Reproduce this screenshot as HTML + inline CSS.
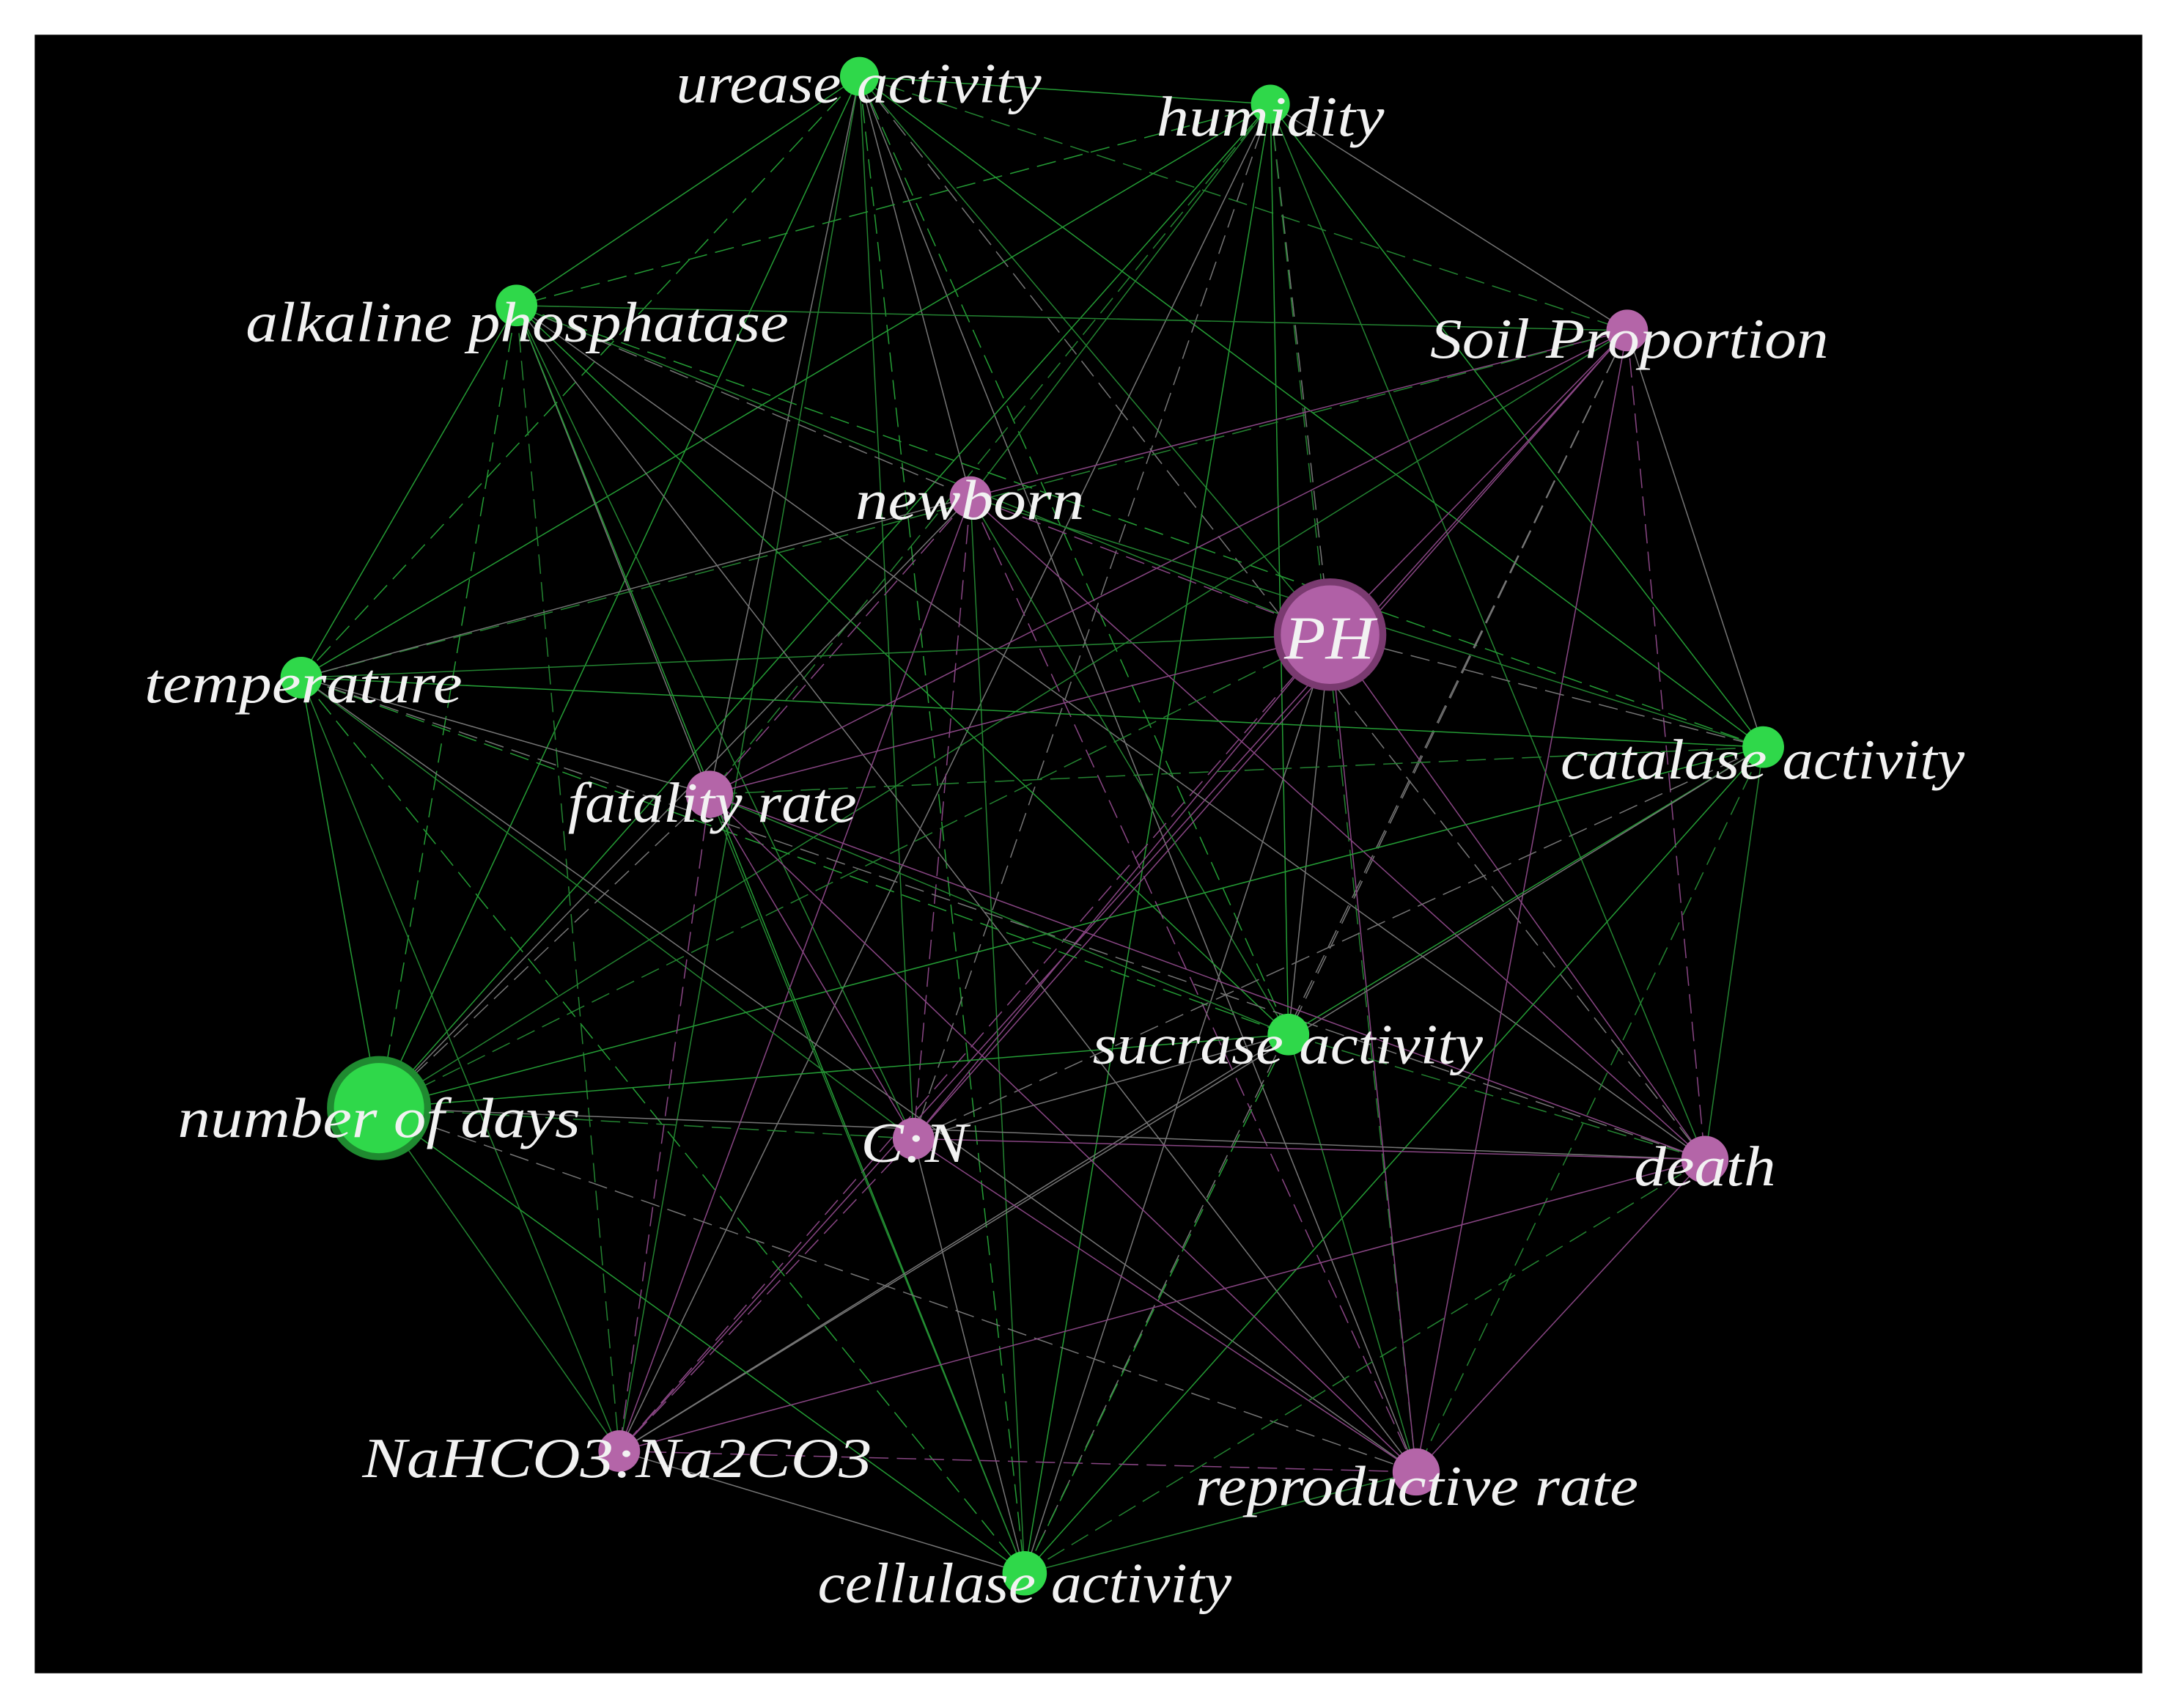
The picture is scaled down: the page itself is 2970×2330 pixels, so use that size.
<!DOCTYPE html>
<html><head><meta charset="utf-8"><style>
html,body{margin:0;padding:0;background:#fff;width:2970px;height:2330px;overflow:hidden}
svg{display:block}
text{font-family:"Liberation Serif",serif;font-style:italic;fill:#f2f2f2;font-size:41px}
</style></head><body>
<svg id="s" width="2970" height="2330" viewBox="0 0 1568 1230" preserveAspectRatio="none">
<rect x="25" y="25" width="1518" height="1180" fill="#000"/>
<g id="edges" opacity="0.85"></g>
<g id="nodes">
<circle cx="619" cy="55" r="14" fill="#2fd84a"/>
<circle cx="915" cy="75" r="14" fill="#2fd84a"/>
<circle cx="372" cy="220" r="15" fill="#2fd84a"/>
<circle cx="1172" cy="238" r="15" fill="#b465a8"/>
<circle cx="699" cy="358" r="15" fill="#b465a8"/>
<circle cx="958" cy="457" r="38" fill="#b060a6" stroke="#7a3a70" stroke-width="5"/>
<circle cx="217" cy="488" r="15" fill="#2fd84a"/>
<circle cx="1270" cy="538" r="15" fill="#2fd84a"/>
<circle cx="511" cy="572" r="17" fill="#b465a8"/>
<circle cx="928" cy="745" r="15" fill="#2fd84a"/>
<circle cx="273" cy="798" r="35" fill="#2fd84a" stroke="#1f8a30" stroke-width="5"/>
<circle cx="658" cy="820" r="15" fill="#b465a8"/>
<circle cx="1228" cy="835" r="17" fill="#b465a8"/>
<circle cx="446" cy="1045" r="15" fill="#b465a8"/>
<circle cx="1020" cy="1060" r="17" fill="#b465a8"/>
<circle cx="738" cy="1133" r="16" fill="#2fd84a"/>
</g>
<g dominant-baseline="central" lengthAdjust="spacingAndGlyphs">
<text x="487" y="60" textLength="263" lengthAdjust="spacingAndGlyphs">urease activity</text>
<text x="833" y="84" textLength="164" lengthAdjust="spacingAndGlyphs">humidity</text>
<text x="177" y="232" textLength="391" lengthAdjust="spacingAndGlyphs">alkaline phosphatase</text>
<text x="1030" y="244" textLength="287" lengthAdjust="spacingAndGlyphs">Soil Proportion</text>
<text x="616" y="360" textLength="165" lengthAdjust="spacingAndGlyphs">newborn</text>
<text x="925" y="460" textLength="65" lengthAdjust="spacingAndGlyphs" style="font-size:44px">PH</text>
<text x="104" y="492" textLength="229" lengthAdjust="spacingAndGlyphs">temperature</text>
<text x="1124" y="547" textLength="291" lengthAdjust="spacingAndGlyphs">catalase activity</text>
<text x="409" y="578" textLength="208" lengthAdjust="spacingAndGlyphs">fatality rate</text>
<text x="787" y="752" textLength="281" lengthAdjust="spacingAndGlyphs">sucrase activity</text>
<text x="128" y="805" textLength="290" lengthAdjust="spacingAndGlyphs">number of days</text>
<text x="620" y="823" textLength="77" lengthAdjust="spacingAndGlyphs">C:N</text>
<text x="1177" y="840" textLength="102" lengthAdjust="spacingAndGlyphs">death</text>
<text x="261" y="1050" textLength="367" lengthAdjust="spacingAndGlyphs">NaHCO3:Na2CO3</text>
<text x="861" y="1070" textLength="319" lengthAdjust="spacingAndGlyphs">reproductive rate</text>
<text x="589" y="1140" textLength="298" lengthAdjust="spacingAndGlyphs">cellulase activity</text>
</g>
</svg>
<script>
var N=[[619,55,1],[915,75,1],[372,220,1],[1172,238,0],[699,358,0],[958,457,0],[217,488,1],[1270,538,1],[511,572,0],[928,745,1],[273,798,1],[658,820,0],[1228,835,0],[446,1045,0],[1020,1060,0],[738,1133,1]];
var g=document.getElementById('edges'),h='';
for(var i=0;i<N.length;i++)for(var j=i+1;j<N.length;j++){
var a=N[i],b=N[j],c;
if(a[2]&&b[2])c='#2bb83f';else if(!a[2]&&!b[2])c='#a0529a';else c=((i+j)%2?'#2a9a3a':'#8a8a8a');
var d=((i*7+j)%3==0)?' stroke-dasharray="14 6"':'';
h+='<line x1="'+a[0]+'" y1="'+a[1]+'" x2="'+b[0]+'" y2="'+b[1]+'" stroke="'+c+'" stroke-width="0.8"'+d+'/>';}
g.innerHTML=h;
</script>
</body></html>
